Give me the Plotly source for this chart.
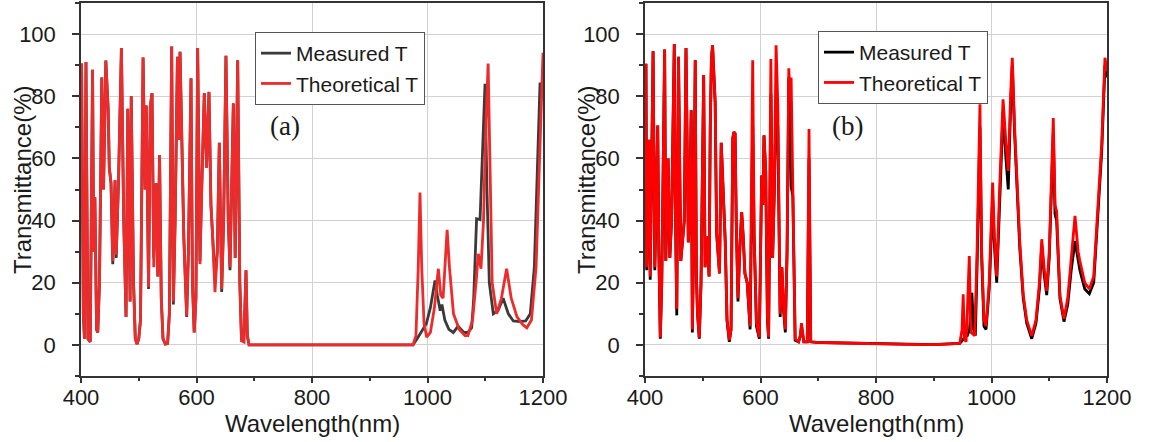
import plotly.graph_objects as go

# ---------------- Panel (a) data ----------------
wl_a_theo = [400, 401, 404, 406, 408.6, 412, 416, 420, 422, 424, 427, 429, 432, 436, 439, 443, 447, 449, 452, 455,
             459, 461, 465, 470, 474, 478, 481, 485, 487, 491, 494, 497, 500, 503, 507.5, 511, 513, 517, 520, 523,
             526, 530, 533, 536, 539, 542, 546, 550, 553, 557, 560, 563, 567, 569.5, 571.5, 575, 578, 583, 586, 590.5,
             593, 596, 599, 602, 606, 609, 613.5, 617.5, 621.6, 625, 628, 632, 636, 639.5, 643.6, 647, 651, 655, 658, 663.8,
             667, 671.3, 675, 678, 682, 685.7, 688, 691, 700, 800, 900, 975, 980, 984, 987, 990, 994, 998.6, 1005,
             1012, 1018.8, 1023, 1027, 1031, 1034, 1038, 1045, 1055, 1065, 1070, 1078, 1084, 1088, 1092.6, 1097, 1101,
             1105, 1108, 1112, 1119.8, 1128, 1137, 1145, 1155, 1165, 1172, 1180, 1188, 1194, 1200]
T_a_theo = [88, 90.5, 10, 2, 91, 2, 1, 88.5, 30, 47.5, 5, 4, 20, 86, 50, 91.5, 76, 57, 52, 27,
            53, 29, 53, 95.5, 40, 9, 76, 14, 80, 20, 2, 0.3, 2, 8, 92.5, 50, 77, 18.6, 76.7, 81,
            25, 52, 22, 61, 15, 2, 0.3, 0.5, 10, 96, 14, 40, 92.7, 66, 94.3, 58, 35, 9.4, 30, 85.8,
            20, 4, 15, 95.5, 26, 50, 81, 57, 81.4, 45, 35, 17, 30, 65, 18, 40, 93, 40, 25, 77.7,
            28, 91.6, 20, 1.4, 1, 24, 3, 0, 0, 0, 0, 0, 3, 25, 49, 25, 7, 2.5, 4,
            12, 24.5, 16, 15, 28, 37, 25, 10, 5, 3, 3, 8, 20, 29.3, 24.5, 40, 70,
            90.5, 60, 20, 10, 15, 24.5, 15, 9, 6.5, 5.5, 8, 25, 60, 94]

wl_a_meas = [400, 401, 404, 406, 408.6, 412, 416, 420, 422, 424, 427, 429, 432, 436, 439, 443, 447, 449, 452, 455,
             459, 461, 465, 470, 474, 478, 481, 485, 487, 491, 494, 497, 500, 503, 507.5, 511, 513, 517, 520, 523,
             526, 530, 533, 536, 539, 542, 546, 550, 553, 557, 560, 563, 567, 569.5, 571.5, 575, 578, 583, 586, 590.5,
             593, 596, 599, 602, 606, 609, 613.5, 617.5, 621.6, 625, 628, 632, 636, 639.5, 643.6, 647, 651, 655, 658, 663.8,
             667, 671.3, 675, 678, 682, 685.7, 688, 691, 700, 800, 900, 975, 982, 987, 993, 998, 1005, 1013, 1017,
             1022, 1025, 1030, 1037, 1044.7, 1053, 1063, 1070, 1076.5, 1080, 1085, 1091, 1095, 1099.6, 1103, 1107, 1114,
             1122, 1131, 1140, 1148.6, 1160, 1170, 1178, 1185, 1190, 1194.8, 1200]
T_a_meas = [88, 90.5, 10, 2, 91, 2, 1, 88.5, 30, 47.5, 5, 4, 20, 86, 50, 91.5, 76, 57, 52, 26,
            53, 28, 53, 95.5, 40, 9, 76, 14, 80, 20, 2, 0.3, 2, 8, 92.5, 50, 77, 18, 76.7, 81,
            28, 52, 22, 61, 15, 2, 0.3, 0.5, 10, 96, 13, 40, 92.7, 66, 94.3, 58, 35, 9, 30, 85.8,
            20, 4, 15, 95.5, 27, 50, 81, 57, 81.4, 45, 35, 21, 30, 65, 17, 40, 93, 40, 24, 77.7,
            28, 91.6, 20, 1.4, 1, 24, 3, 0, 0, 0, 0, 0, 2, 3.5, 5, 6.8, 12, 20.7, 16,
            11, 13, 8, 5, 4, 6, 4, 4, 5.5, 15, 40.6, 40.3, 60, 84, 50, 20, 10,
            11, 15, 10, 7.7, 7.5, 7.7, 10, 25, 55, 84, 84]

# ---------------- Panel (b) data ----------------
wl_b_theo = [400, 401.7, 403, 407, 409, 411, 414, 417, 419, 422, 424, 426.5, 429, 431, 434, 436, 438, 440, 443, 446,
             450.7, 452, 455, 458, 462, 465, 468, 471, 475, 477, 480, 482, 484, 487, 489, 491, 494, 497, 501.6, 504,
             506, 508.8, 511, 513, 515, 517, 519, 521.5, 524, 529, 532, 536, 539, 542, 546, 549, 552, 554, 556, 558,
             561, 564, 567.4, 570, 573, 577, 580, 582, 586.5, 589, 593, 598, 602, 604, 606, 609, 612, 614, 618, 621,
             624, 627, 630, 634, 637, 640, 643, 646, 649, 651, 653, 656, 660, 666, 669, 671, 675, 681, 684, 687,
             697, 720, 760, 800, 850, 900, 945, 949, 951, 953, 956, 958, 961.6, 963.5, 965, 971, 975, 980, 983, 987,
             990.5, 996, 1002, 1005, 1009, 1014, 1020, 1025, 1029, 1033, 1036, 1040, 1046, 1049, 1055, 1061, 1069.6, 1077, 1083, 1087,
             1091, 1095.6, 1100, 1104, 1107, 1110, 1112.8, 1118.5, 1125.5, 1132, 1138, 1144.6, 1150, 1153, 1161.5, 1169.4, 1177, 1182, 1190.8, 1196.5,
             1200]
T_b_theo = [90, 90, 25, 66, 22, 45, 94.5, 25, 40, 70.6, 30, 2.4, 20, 45, 95, 27, 45, 60, 28, 40,
            96.8, 52, 11.6, 92.7, 27, 35, 40, 95.5, 33, 40, 75.5, 5, 30, 91.6, 22, 10, 2.3, 20, 86.8, 25,
            35, 29, 22, 70, 92, 96.4, 90, 78, 36, 23, 65, 49, 33, 8, 1.5, 5, 66.5, 68.5, 68, 40,
            15, 30, 42.7, 35, 23, 20, 12, 6, 91.6, 35, 7, 2.5, 54.5, 45, 67.4, 56, 9, 2.5, 92, 28,
            50, 96.4, 77, 10, 25, 12, 5, 30, 89, 80, 86, 51, 2, 1, 3, 7, 1, 1, 69.5, 1,
            0.8, 0.7, 0.5, 0.3, 0.2, 0.1, 0.5, 5, 16.3, 2, 1, 10, 28.6, 8, 4, 3, 30, 77.4, 30, 8,
            6, 20, 52.2, 35, 22, 50, 79, 65, 56, 80, 92.4, 70, 45, 33, 16, 8, 2.9, 8, 20, 34,
            25, 17.4, 30, 60, 73, 45, 43, 16, 8.4, 15, 28, 41.5, 30, 27, 20, 18, 22, 37.6, 64.6, 92.4,
            88]

wl_b_meas = [400, 401.7, 403, 407, 409, 411, 414, 417, 419, 422, 424, 426.5, 429, 431, 434, 436, 438, 440, 443, 446,
             450.7, 452, 455, 458, 462, 465, 468, 471, 475, 477, 480, 482, 484, 487, 489, 491, 494, 497, 501.6, 504,
             506, 508.8, 511, 513, 515, 517, 519, 521.5, 524, 529, 532, 536, 539, 542, 546, 549, 552, 554, 556, 558,
             561, 564, 567.4, 570, 573, 577, 580, 582, 586.5, 589, 593, 598, 602, 604, 606, 609, 612, 614, 618, 621,
             624, 627, 630, 634, 637, 640, 643, 646, 649, 651, 653, 656, 660, 666, 669, 671, 675, 681, 684, 687,
             697, 720, 760, 800, 850, 900, 945, 950, 955, 958, 962, 966, 969, 972, 975, 980, 983, 987,
             990.5, 996, 1002, 1005, 1009, 1014, 1020, 1025, 1029, 1033, 1036, 1040, 1046, 1049, 1055, 1061, 1069.6, 1077, 1083, 1087,
             1091, 1095.6, 1100, 1104, 1107, 1110, 1112.8, 1118.5, 1125.5, 1132, 1138, 1144.6, 1150, 1153, 1161.5, 1169.4, 1177, 1182, 1190.8, 1196.5,
             1200]
T_b_meas = [90, 90, 24, 66, 21, 45, 94.5, 24, 40, 70.6, 30, 2, 20, 45, 95, 27, 45, 60, 28, 40,
            96.8, 52, 9.5, 92.7, 27, 35, 40, 95.5, 33, 40, 75.5, 4, 30, 91.6, 22, 10, 2, 20, 86.8, 25,
            35, 29, 22, 70, 92, 96.4, 90, 78, 36, 23, 65, 49, 33, 8, 1, 5, 66.5, 68.5, 68, 40,
            14, 30, 42.7, 35, 23, 20, 12, 5, 70.6, 35, 6, 2, 54.5, 45, 67.4, 56, 8, 2, 80.7, 28,
            50, 78, 70, 9, 25, 11, 4, 30, 86, 80, 51, 48, 1.5, 1, 3, 6, 1, 1, 60, 1,
            0.8, 0.7, 0.5, 0.3, 0.2, 0.1, 0.5, 1.5, 3, 3, 5, 16.8, 5, 3, 25, 70, 28, 6,
            5, 18, 47, 32, 20, 48, 75, 60, 50, 76, 90, 68, 43, 31, 15, 7, 2, 7, 18, 32,
            23, 16, 28, 55, 68, 42, 40, 15, 7.5, 13, 24, 33.4, 27, 24, 18, 16.5, 20, 34, 62, 90,
            86]

x_ticks = [400, 600, 800, 1000, 1200]
y_ticks = [0, 20, 40, 60, 80, 100]

W, H = 1149, 442
RED_A, GRAY_A = "#ee2b2b", "#3a3a3a"
RED_B, BLACK_B = "#ff0000", "#000000"
FONT = "Liberation Sans, Arial, sans-serif"
LW = 2.8

fig = go.Figure()
fig.add_trace(go.Scatter(x=wl_a_meas, y=T_a_meas, mode="lines", name="Measured T",
                         line=dict(color=GRAY_A, width=LW), xaxis="x", yaxis="y", legend="legend"))
fig.add_trace(go.Scatter(x=wl_a_theo, y=T_a_theo, mode="lines", name="Theoretical T",
                         line=dict(color=RED_A, width=LW), xaxis="x", yaxis="y", legend="legend"))
fig.add_trace(go.Scatter(x=wl_b_meas, y=T_b_meas, mode="lines", name="Measured T",
                         line=dict(color=BLACK_B, width=LW), xaxis="x2", yaxis="y2", legend="legend2"))
fig.add_trace(go.Scatter(x=wl_b_theo, y=T_b_theo, mode="lines", name="Theoretical T",
                         line=dict(color=RED_B, width=LW), xaxis="x2", yaxis="y2", legend="legend2"))

def xax(domain, anchor):
    return dict(domain=domain, anchor=anchor, range=[400, 1200], tickvals=x_ticks, automargin=False,
                showgrid=True, gridcolor="#d2d2d2", gridwidth=1, zeroline=False,
                showline=True, linecolor="#333333", linewidth=1.5, mirror=True,
                ticks="outside", ticklen=5, tickwidth=1.5, tickcolor="#333333",
                ticklabelstandoff=-4,
                minor=dict(dtick=100, tick0=400, ticks="outside", ticklen=3, tickcolor="#333333", showgrid=False),
                tickfont=dict(family=FONT, size=22, color="#1a1a1a"))

def yax(anchor):
    return dict(domain=[66 / H, 439 / H], anchor=anchor, range=[-10, 110], tickvals=y_ticks, automargin=False,
                showgrid=True, gridcolor="#d2d2d2", gridwidth=1, zeroline=False,
                showline=True, linecolor="#333333", linewidth=1.5, mirror=True,
                ticks="outside", ticklen=7, tickwidth=1.5, tickcolor="#333333",
                ticklabelstandoff=12,
                minor=dict(dtick=10, tick0=-10, ticks="outside", ticklen=4, tickcolor="#333333", showgrid=False),
                tickfont=dict(family=FONT, size=22, color="#1a1a1a"))

leg_common = dict(bgcolor="white", bordercolor="#555555", borderwidth=1,
                  font=dict(family=FONT, size=21, color="#1a1a1a"),
                  xanchor="left", yanchor="top", tracegroupgap=0)

ann_font = dict(family=FONT, size=24, color="#1a1a1a")
fig.update_layout(
    width=W, height=H, margin=dict(l=0, r=0, t=0, b=0, autoexpand=False),
    paper_bgcolor="white", plot_bgcolor="white", showlegend=True,
    xaxis=xax([81 / W, 543 / W], "y"), yaxis=yax("x"),
    xaxis2=xax([645 / W, 1107 / W], "y2"), yaxis2=yax("x2"),
    legend=dict(x=255 / W, y=(H - 32) / H, **leg_common),
    legend2=dict(x=818 / W, y=(H - 31) / H, **leg_common),
    annotations=[
        dict(text="Transmittance(%)", x=22 / W, y=(H - 180) / H, xref="paper", yref="paper",
             textangle=-90, showarrow=False, xanchor="center", yanchor="middle", font=ann_font),
        dict(text="Transmittance(%)", x=586 / W, y=(H - 180) / H, xref="paper", yref="paper",
             textangle=-90, showarrow=False, xanchor="center", yanchor="middle", font=ann_font),
        dict(text="Wavelength(nm)", x=312 / W, y=(H - 423) / H, xref="paper", yref="paper",
             showarrow=False, xanchor="center", yanchor="middle", font=ann_font),
        dict(text="Wavelength(nm)", x=876 / W, y=(H - 423) / H, xref="paper", yref="paper",
             showarrow=False, xanchor="center", yanchor="middle", font=ann_font),
        dict(text="(a)", x=285 / W, y=(H - 126) / H, xref="paper", yref="paper",
             showarrow=False, xanchor="center", yanchor="middle",
             font=dict(family="Liberation Serif, Times New Roman, serif", size=27, color="#1a1a1a")),
        dict(text="(b)", x=848 / W, y=(H - 126) / H, xref="paper", yref="paper",
             showarrow=False, xanchor="center", yanchor="middle",
             font=dict(family="Liberation Serif, Times New Roman, serif", size=27, color="#1a1a1a")),
    ],
)

fig.write_html("out.html")
